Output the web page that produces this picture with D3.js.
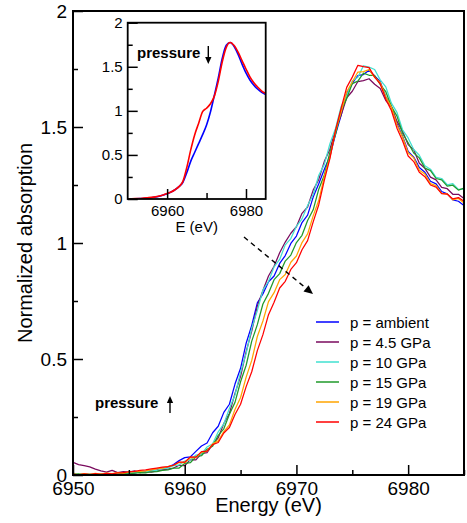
<!DOCTYPE html>
<html><head><meta charset="utf-8">
<script src="https://cdn.jsdelivr.net/npm/d3@7"></script>
<style>body{margin:0;background:#fff}svg{display:block;font-family:"Liberation Sans",Arial,sans-serif}</style>
</head><body><svg id="c" width="467" height="523"></svg>
<script>
// ---------- data ----------
const energy = [6950,6950.5,6951,6951.5,6952,6952.5,6953,6953.5,6954,6954.5,
 6955,6955.5,6956,6956.5,6957,6957.5,6958,6958.5,6959,6959.5,
 6960,6960.5,6961,6961.5,6962,6962.5,6963,6963.5,6964,6964.5,
 6965,6965.5,6966,6966.5,6967,6967.5,6968,6968.5,6969,6969.5,
 6970,6970.5,6971,6971.5,6972,6972.5,6973,6973.5,6974,6974.5,
 6975,6975.5,6976,6976.5,6977,6977.5,6978,6978.5,6979,6979.5,
 6980,6980.5,6981,6981.5,6982,6982.5,6983,6983.5,6984,6984.5,6985];

const pAmbient = [0.004,0.000,0.006,0.002,0.005,0.001,0.006,0.003,0.008,0.005,
 0.010,0.008,0.014,0.012,0.020,0.022,0.030,0.034,0.045,
 0.062,0.075,0.078,0.102,0.125,0.138,0.182,0.210,0.270,0.305,
 0.392,0.460,0.568,0.645,0.742,0.780,0.833,0.858,0.912,0.946,
 0.998,1.030,1.088,1.120,1.198,1.255,1.318,1.375,1.468,1.550,
 1.645,1.688,1.722,1.726,1.745,1.720,1.695,1.630,1.590,1.514,
 1.460,1.395,1.370,1.325,1.305,1.266,1.255,1.222,1.212,1.186,
 1.180,1.162];

const p4_5 = [0.055,0.045,0.040,0.035,0.025,0.018,0.012,0.020,0.010,0.015,
 0.012,0.018,0.010,0.015,0.012,0.018,0.022,0.025,0.030,
 0.042,0.040,0.066,0.065,0.092,0.096,0.132,0.160,0.222,0.265,
 0.352,0.425,0.532,0.620,0.728,0.795,0.858,0.900,0.958,1.004,
 1.042,1.070,1.128,1.155,1.228,1.274,1.352,1.404,1.488,1.552,
 1.626,1.654,1.696,1.700,1.708,1.684,1.666,1.614,1.586,1.524,
 1.482,1.424,1.402,1.344,1.322,1.284,1.272,1.240,1.234,1.210,
 1.210,1.192];

const p10 = [0.008,0.003,0.005,0.000,0.004,0.002,0.006,0.003,0.007,0.004,
 0.008,0.010,0.012,0.014,0.018,0.020,0.028,0.030,0.040,
 0.044,0.060,0.064,0.086,0.090,0.121,0.135,0.186,0.220,0.287,
 0.345,0.442,0.524,0.632,0.709,0.797,0.834,0.897,0.929,0.992,
 1.019,1.072,1.104,1.162,1.209,1.292,1.339,1.428,1.494,1.588,
 1.634,1.698,1.714,1.764,1.758,1.748,1.703,1.673,1.603,1.563,
 1.488,1.453,1.403,1.378,1.333,1.318,1.283,1.278,1.251,1.256,
 1.231,1.232];

const p15 = [0.002,0.005,0.001,0.004,0.000,0.005,0.002,0.006,0.003,0.007,
 0.004,0.008,0.010,0.009,0.014,0.015,0.020,0.022,0.030,
 0.030,0.050,0.053,0.078,0.083,0.111,0.124,0.171,0.199,0.262,
 0.313,0.402,0.473,0.577,0.648,0.737,0.783,0.842,0.868,0.922,
 0.948,1.002,1.033,1.097,1.143,1.232,1.293,1.392,1.468,1.572,
 1.623,1.687,1.698,1.732,1.723,1.722,1.683,1.652,1.588,1.547,
 1.473,1.432,1.388,1.367,1.323,1.312,1.278,1.272,1.245,1.249,
 1.228,1.237];

const p19 = [0.005,0.002,0.006,0.003,0.007,0.004,0.008,0.006,0.010,0.008,
 0.012,0.014,0.016,0.018,0.022,0.026,0.030,0.036,0.042,
 0.054,0.053,0.074,0.075,0.098,0.103,0.134,0.147,0.187,0.216,
 0.282,0.334,0.422,0.494,0.597,0.664,0.747,0.786,0.842,0.864,
 0.917,0.944,1.002,1.039,1.117,1.184,1.287,1.369,1.482,1.564,
 1.652,1.694,1.737,1.739,1.747,1.714,1.692,1.629,1.587,1.509,
 1.457,1.389,1.367,1.314,1.297,1.256,1.247,1.214,1.212,1.186,
 1.192,1.172];

const p24 = [0.004,0.001,0.005,0.002,0.006,0.003,0.007,0.005,0.009,0.010,
 0.014,0.016,0.020,0.022,0.026,0.030,0.034,0.036,0.042,
 0.056,0.055,0.078,0.077,0.101,0.103,0.131,0.140,0.181,0.205,
 0.261,0.305,0.381,0.445,0.536,0.605,0.691,0.745,0.806,0.835,
 0.886,0.915,0.971,1.010,1.091,1.165,1.271,1.365,1.486,1.580,
 1.671,1.715,1.766,1.760,1.756,1.715,1.686,1.620,1.571,1.495,
 1.441,1.375,1.351,1.305,1.286,1.250,1.241,1.213,1.211,1.190,
 1.196,1.180];

const seriesLabels = ["p = ambient","p = 4.5 GPa","p = 10 GPa","p = 15 GPa","p = 19 GPa","p = 24 GPa"];
const seriesColors = ["#0000ff","#7a0a5e","#40e0d0","#1f9a2a","#ffa500","#ff0000"];
const seriesValues = [pAmbient,p4_5,p10,p15,p19,p24];

const insetEnergy = [6950,6951,6952,6953,6954,6955,6956,6957,6958,6959,
 6960,6961,6962,6963,6964,6965,6966,6967,6968,6969,
 6970,6971,6972,6973,6974,6975,6976,6977,6978,6979,
 6980,6981,6982,6983,6984,6985];
const insetAmbient = [0.000,0.000,0.002,0.004,0.006,0.010,0.015,0.022,0.032,0.045,
 0.060,0.080,0.105,0.140,0.190,0.300,0.430,0.530,0.630,0.730,
 0.840,0.990,1.180,1.380,1.600,1.745,1.775,1.730,1.640,1.530,
 1.430,1.350,1.290,1.245,1.210,1.185];
const insetP24 = [0.000,0.002,0.004,0.006,0.010,0.014,0.018,0.024,0.034,0.046,
 0.062,0.080,0.105,0.140,0.200,0.360,0.560,0.730,0.860,0.990,
 1.030,1.080,1.170,1.340,1.560,1.720,1.775,1.740,1.665,1.570,
 1.475,1.385,1.318,1.268,1.225,1.198];

const xMajor = [6950,6960,6970,6980];
const xMinor = [6955,6965,6975,6985];
const yMajor = [0,0.5,1,1.5,2];
const yMinor = [0.25,0.75,1.25,1.75];
const insetXMajor = [6960,6980];
const insetXMinor = [6970];

// ---------- drawing ----------
const svg = d3.select("#c");
const L=73,R=464,T=11,B=475;
const x = d3.scaleLinear().domain([6950,6985]).range([L,R]);
const y = d3.scaleLinear().domain([0,2]).range([B,T]);

const defs = svg.append("defs");
defs.append("clipPath").attr("id","clipMain").append("rect").attr("x",L).attr("y",T).attr("width",R-L).attr("height",B-T);

function styleAxis(g, fs){
  g.select(".domain").remove();
  g.selectAll("line").attr("stroke","#000").attr("stroke-width",1.5);
  g.selectAll("text").attr("font-size",fs).attr("fill","#000").attr("font-family","Liberation Sans, Arial, sans-serif");
}

// main curves
const line = d3.line().x((d,i)=>x(energy[i])).y(d=>y(d));
const curves = svg.append("g").attr("clip-path","url(#clipMain)");
seriesValues.forEach((vals,k)=>{
  curves.append("path").attr("d",line(vals)).attr("fill","none")
    .attr("stroke",seriesColors[k]).attr("stroke-width",1.25).attr("stroke-linejoin","round");
});

// main axes
svg.append("g").attr("transform",`translate(0,${B})`)
  .call(d3.axisBottom(x).tickValues(xMajor).tickSize(-10).tickPadding(7).tickFormat(d=>String(d)))
  .call(g=>styleAxis(g,19));
svg.append("g").attr("transform",`translate(0,${B})`)
  .call(d3.axisBottom(x).tickValues(xMinor).tickSize(-5).tickFormat(""))
  .call(g=>styleAxis(g,19));
svg.append("g").attr("transform",`translate(${L},0)`)
  .call(d3.axisLeft(y).tickValues(yMajor).tickSize(-10).tickPadding(6).tickFormat(d=>String(d)))
  .call(g=>styleAxis(g,19));
svg.append("g").attr("transform",`translate(${L},0)`)
  .call(d3.axisLeft(y).tickValues(yMinor).tickSize(-5).tickFormat(""))
  .call(g=>styleAxis(g,19));
svg.append("rect").attr("x",L).attr("y",T).attr("width",R-L).attr("height",B-T)
  .attr("fill","none").attr("stroke","#000").attr("stroke-width",2);

// axis titles
svg.append("text").attr("x",(L+R)/2).attr("y",512).attr("text-anchor","middle")
  .attr("font-size",20).text("Energy (eV)");
svg.append("text").attr("transform",`translate(32,${(T+B)/2}) rotate(-90)`).attr("text-anchor","middle")
  .attr("font-size",20).text("Normalized absorption");

// legend
const lg = svg.append("g");
seriesLabels.forEach((lab,k)=>{
  const cy = 322 + k*20;
  lg.append("line").attr("x1",316).attr("x2",339).attr("y1",cy).attr("y2",cy)
    .attr("stroke",seriesColors[k]).attr("stroke-width",1.5);
  lg.append("text").attr("x",350).attr("y",cy+5.5).attr("font-size",15).text(lab);
});

// arrows helper
function arrow(x1,y1,x2,y2,dash,head){
  const g = svg.append("g");
  const a = Math.atan2(y2-y1,x2-x1);
  const bx = x2 - head*Math.cos(a), by = y2 - head*Math.sin(a);
  g.append("line").attr("x1",x1).attr("y1",y1).attr("x2",bx).attr("y2",by)
    .attr("stroke","#000").attr("stroke-width",1.4).attr("stroke-dasharray",dash||null);
  const w = head*0.45;
  const px = -Math.sin(a)*w, py = Math.cos(a)*w;
  g.append("path").attr("d",`M${x2},${y2}L${bx+px},${by+py}L${bx-px},${by-py}Z`).attr("fill","#000");
}
arrow(244,237,313,294,"5,4",9);

svg.append("text").attr("x",95).attr("y",408).attr("font-size",15).attr("font-weight","bold").text("pressure");
arrow(170,413,170,396,null,7);

// ---------- inset ----------
const IL=127.7, IR=265.7, IT=22.7, IB=199;
const xi = d3.scaleLinear().domain([6950,6985]).range([IL,IR]);
const yi = d3.scaleLinear().domain([0,2]).range([IB,IT]);
svg.append("rect").attr("x",IL).attr("y",IT).attr("width",IR-IL).attr("height",IB-IT).attr("fill","#fff");
defs.append("clipPath").attr("id","clipInset").append("rect").attr("x",IL).attr("y",IT).attr("width",IR-IL).attr("height",IB-IT);
const iline = d3.line().x((d,i)=>xi(insetEnergy[i])).y(d=>yi(d)).curve(d3.curveMonotoneX);
const ig = svg.append("g").attr("clip-path","url(#clipInset)");
ig.append("path").attr("d",iline(insetAmbient)).attr("fill","none").attr("stroke","#0000ff").attr("stroke-width",1.6);
ig.append("path").attr("d",iline(insetP24)).attr("fill","none").attr("stroke","#ff0000").attr("stroke-width",1.6);

svg.append("g").attr("transform",`translate(0,${IB})`)
  .call(d3.axisBottom(xi).tickValues(insetXMajor).tickSize(-10).tickPadding(6).tickFormat(d=>String(d)))
  .call(g=>styleAxis(g,15));
svg.append("g").attr("transform",`translate(0,${IB})`)
  .call(d3.axisBottom(xi).tickValues(insetXMinor).tickSize(-6).tickFormat(""))
  .call(g=>styleAxis(g,15));
svg.append("g").attr("transform",`translate(${IL},0)`)
  .call(d3.axisLeft(yi).tickValues(yMajor).tickSize(-10).tickPadding(5).tickFormat(d=>String(d)))
  .call(g=>styleAxis(g,15));
svg.append("g").attr("transform",`translate(${IL},0)`)
  .call(d3.axisLeft(yi).tickValues(yMinor).tickSize(-5).tickFormat(""))
  .call(g=>styleAxis(g,15));
svg.append("rect").attr("x",IL).attr("y",IT).attr("width",IR-IL).attr("height",IB-IT)
  .attr("fill","none").attr("stroke","#000").attr("stroke-width",1.8);
svg.append("text").attr("x",(IL+IR)/2).attr("y",232).attr("text-anchor","middle").attr("font-size",15).text("E (eV)");
svg.append("text").attr("x",137).attr("y",58).attr("font-size",15).attr("font-weight","bold").text("pressure");
arrow(208.3,46,208.3,64,null,7);
</script></body></html>
